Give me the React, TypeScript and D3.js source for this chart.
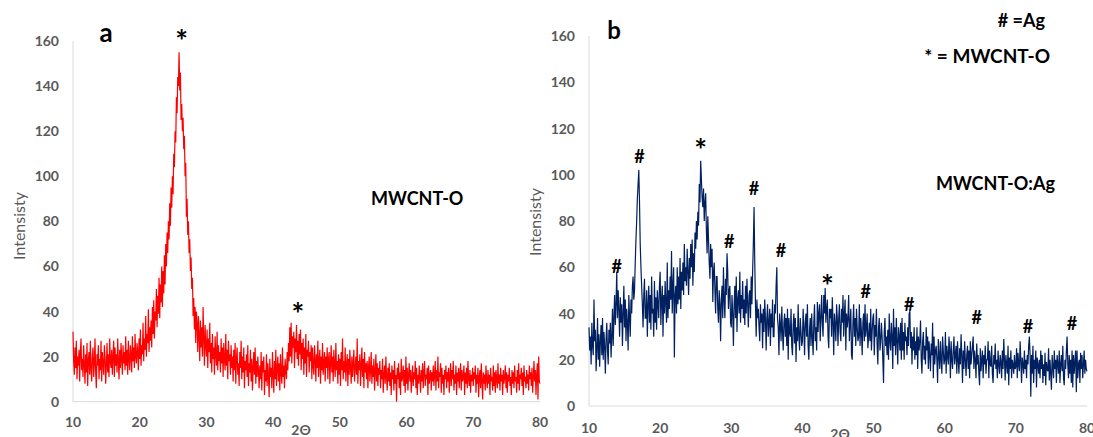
import React from "react";
import * as d3 from "d3";

// scan settings (degrees 2-theta)
const angleStart = 10;
const angleStep = 0.1;

const xTicks = [10, 20, 30, 40, 50, 60, 70, 80];
const yTicks = [0, 20, 40, 60, 80, 100, 120, 140, 160];

// MWCNT-O intensities, one row per 2 degrees
const intensityA = [
  31, 18, 12, 24, 15, 27, 10, 20, 16, 23, 9, 22, 28, 14, 19, 11, 25, 17, 8, 21,
  13, 26, 7, 18, 22, 12, 27, 15, 9, 20, 24, 11, 17, 28, 13, 6, 21, 16, 25, 10,
  19, 14, 27, 9, 22, 17, 12, 25, 20, 8, 16, 26, 13, 21, 11, 28, 18, 15, 23, 12,
  20, 27, 11, 24, 16, 21, 13, 28, 18, 10, 23, 15, 26, 19, 12, 25, 17, 22, 14, 29,
  16, 23, 12, 27, 19, 14, 25, 21, 13, 29, 18, 24, 15, 30, 20, 17, 26, 22, 14, 28,
  19, 32, 16, 25, 21, 35, 18, 28, 23, 38, 20, 30, 26, 41, 22, 33, 27, 36, 24, 42,
  30, 45, 28, 40, 36, 50, 33, 47, 39, 55, 37, 52, 44, 60, 42, 58, 48, 65, 52, 70,
  60, 75, 66, 80, 72, 88, 78, 95, 86, 100, 92, 110, 104, 120, 115, 135, 128, 144, 140, 155,
  138, 146, 125, 132, 120, 126, 112, 118, 100, 106, 82, 90, 74, 80, 66, 72, 58, 64, 50, 55,
  38, 46, 32, 42, 26, 40, 35, 22, 38, 30, 18, 36, 24, 33, 20, 42, 28, 16, 34, 25,
  20, 32, 15, 28, 22, 35, 17, 26, 13, 30, 19, 24, 12, 29, 21, 16, 31, 14, 25, 18,
  22, 13, 28, 17, 24, 11, 26, 19, 14, 30, 16, 23, 10, 27, 18, 21, 12, 25, 15, 20,
  9, 23, 14, 26, 8, 19, 24, 12, 17, 7, 22, 15, 27, 10, 20, 13, 24, 6, 18, 14,
  21, 11, 25, 7, 17, 13, 23, 9, 19, 5, 15, 22, 12, 24, 8, 18, 11, 20, 14, 6,
  16, 10, 22, 5, 18, 13, 20, 3, 14, 9, 21, 7, 17, 12, 2, 19, 11, 15, 6, 22,
  12, 4, 18, 10, 23, 7, 15, 20, 9, 17, 5, 21, 13, 8, 24, 11, 16, 6, 19, 14,
  10, 22, 14, 26, 18, 33, 20, 35, 17, 29, 24, 31, 15, 28, 22, 34, 19, 27, 16, 30,
  21, 32, 14, 26, 19, 28, 12, 24, 17, 30, 11, 23, 20, 27, 13, 22, 18, 25, 10, 24,
  16, 12, 25, 19, 9, 21, 15, 27, 11, 18, 23, 8, 20, 14, 26, 12, 17, 22, 9, 20,
  15, 24, 10, 19, 22, 8, 17, 25, 13, 20, 9, 23, 16, 11, 26, 14, 18, 8, 21, 12,
  19, 7, 22, 14, 28, 10, 18, 13, 24, 9, 16, 21, 7, 19, 12, 23, 15, 8, 20, 11,
  17, 23, 9, 15, 20, 12, 28, 8, 18, 14, 21, 7, 16, 24, 11, 19, 6, 22, 13, 17,
  10, 18, 6, 15, 20, 9, 14, 22, 8, 16, 11, 19, 5, 13, 21, 9, 17, 7, 15, 12,
  18, 6, 14, 10, 19, 4, 12, 16, 8, 20, 11, 5, 15, 9, 17, 7, 13, 3, 16, 10,
  14, 5, 18, 8, 12, 0, 15, 10, 17, 6, 13, 3, 19, 9, 11, 16, 7, 14, 4, 20,
  8, 15, 5, 12, 17, 9, 14, 4, 11, 16, 7, 13, 10, 18, 6, 15, 3, 12, 8, 16,
  11, 4, 14, 9, 17, 6, 13, 18, 7, 12, 10, 15, 3, 16, 8, 11, 14, 5, 13, 9,
  16, 7, 12, 18, 5, 14, 9, 20, 6, 13, 11, 17, 4, 15, 8, 12, 3, 14, 10, 16,
  6, 13, 9, 15, 4, 11, 17, 7, 14, 10, 18, 5, 12, 8, 16, 3, 13, 9, 15, 6,
  12, 17, 5, 14, 9, 11, 16, 3, 13, 8, 15, 6, 18, 10, 7, 14, 4, 12, 9, 15,
  7, 13, 10, 16, 4, 12, 8, 15, 2, 11, 14, 6, 17, 9, 1, 13, 8, 12, 5, 16,
  10, 6, 14, 8, 12, 3, 15, 9, 11, 5, 16, 7, 13, 4, 14, 10, 6, 17, 8, 12,
  5, 15, 9, 12, 3, 14, 8, 11, 16, 6, 13, 4, 12, 9, 15, 7, 11, 3, 14, 8,
  13, 6, 16, 9, 11, 4, 14, 8, 17, 5, 12, 10, 15, 7, 13, 3, 16, 9, 11, 6,
  14, 8, 12, 5, 16, 10, 13, 7, 15, 4, 11, 18, 9, 14, 3, 12, 17, 1, 20, 9,
  8,
];

// MWCNT-O:Ag intensities
const intensityB = [
  34, 24, 30, 18, 36, 26, 22, 46, 28, 33, 15, 25, 38, 20, 31, 17, 28, 35, 22, 38,
  20, 32, 26, 14, 29, 36, 24, 18, 33, 27, 36, 21, 30, 42, 26, 38, 48, 35, 44, 58,
  38, 50, 42, 30, 47, 36, 44, 26, 40, 52, 34, 46, 28, 42, 36, 24, 48, 38, 30, 46,
  40, 52, 56, 46, 50, 62, 72, 80, 90, 96, 102, 88, 70, 60, 52, 44, 34, 48, 55, 38,
  38, 50, 30, 44, 52, 36, 48, 33, 56, 40, 42, 30, 54, 36, 47, 33, 50, 44, 38, 52,
  58, 35, 46, 52, 30, 48, 40, 54, 44, 36, 62, 38, 50, 42, 56, 46, 67, 40, 52, 60,
  21, 48, 52, 40, 60, 44, 56, 46, 64, 42, 58, 50, 62, 48, 70, 54, 60, 52, 68, 58,
  48, 64, 55, 70, 60, 72, 52, 66, 58, 75, 68, 80, 72, 84, 78, 96, 88, 106, 98, 90,
  86, 94, 80, 88, 92, 76, 66, 82, 72, 62, 55, 70, 60, 68, 45, 58, 62, 50, 40, 56,
  56, 42, 36, 50, 44, 28, 46, 52, 38, 60, 46, 38, 55, 48, 66, 58, 42, 50, 52, 36,
  34, 48, 40, 26, 44, 52, 38, 56, 32, 46, 50, 40, 58, 36, 48, 42, 54, 38, 46, 35,
  52, 40, 55, 44, 34, 48, 50, 38, 56, 44, 58, 70, 86, 62, 44, 30, 46, 38, 42, 34,
  28, 44, 36, 40, 25, 42, 32, 46, 38, 24, 38, 44, 30, 36, 42, 26, 40, 34, 46, 30,
  30, 44, 40, 52, 60, 38, 34, 22, 40, 35, 28, 43, 32, 24, 36, 40, 30, 38, 26, 42,
  20, 38, 32, 30, 42, 26, 22, 35, 40, 27, 38, 19, 34, 28, 44, 30, 24, 38, 32, 26,
  28, 42, 34, 22, 36, 40, 30, 44, 26, 20, 33, 38, 26, 40, 30, 22, 36, 44, 28, 34,
  24, 45, 32, 40, 44, 28, 38, 48, 36, 30, 48, 40, 51, 36, 42, 46, 30, 25, 42, 38,
  42, 30, 47, 36, 22, 40, 35, 28, 44, 38, 26, 38, 44, 32, 28, 42, 36, 48, 30, 40,
  46, 24, 40, 34, 38, 48, 28, 36, 42, 22, 20, 36, 44, 30, 38, 26, 42, 34, 28, 30,
  44, 26, 38, 32, 22, 36, 40, 28, 44, 30, 34, 40, 25, 30, 36, 28, 42, 24, 32, 38,
  40, 22, 35, 30, 42, 26, 18, 34, 38, 24, 28, 36, 30, 20, 10, 32, 38, 26, 30, 22,
  33, 20, 40, 28, 24, 36, 30, 16, 42, 26, 34, 22, 38, 28, 18, 34, 30, 24, 36, 20,
  38, 24, 32, 20, 36, 28, 30, 22, 34, 26, 40, 41, 25, 32, 18, 30, 24, 34, 20, 28,
  22, 34, 16, 30, 24, 28, 37, 20, 14, 28, 32, 20, 26, 18, 34, 24, 30, 16, 28, 22,
  15, 27, 22, 36, 12, 30, 18, 24, 26, 20, 10, 29, 22, 16, 28, 20, 14, 30, 24, 18,
  20, 32, 14, 26, 22, 18, 30, 24, 12, 28, 20, 16, 24, 30, 18, 22, 26, 14, 28, 20,
  14, 25, 18, 31, 22, 10, 24, 16, 28, 20, 13, 22, 26, 16, 24, 12, 28, 18, 22, 26,
  30, 16, 24, 20, 12, 27, 18, 22, 14, 9, 25, 15, 20, 24, 12, 22, 18, 26, 14, 20,
  20, 28, 12, 24, 18, 17, 26, 14, 10, 22, 18, 27, 16, 20, 12, 24, 18, 14, 22, 19,
  12, 24, 16, 29, 20, 11, 22, 18, 14, 26, 9, 21, 16, 24, 12, 20, 18, 14, 22, 16,
  17, 25, 12, 23, 18, 15, 28, 20, 10, 21, 18, 14, 24, 16, 20, 12, 22, 18, 26, 30,
  22, 4, 22, 14, 26, 10, 20, 16, 24, 8, 21, 18, 14, 20, 12, 24, 16, 22, 10, 18,
  13, 23, 9, 19, 16, 15, 25, 11, 20, 14, 7, 22, 17, 12, 24, 16, 20, 10, 22, 18,
  14, 24, 10, 18, 22, 15, 26, 12, 9, 20, 16, 24, 30, 18, 12, 22, 14, 20, 10, 24,
  8, 22, 14, 19, 24, 6, 24, 12, 18, 20, 10, 23, 16, 22, 12, 18, 24, 14, 20, 16,
  15,
];

// peak labels: [symbol, angle, intensity at label baseline]
const markersA: [string, number, number][] = [
  ["*", 26.3, 159],
  ["*", 43.7, 38],
];
const markersB: [string, number, number][] = [
  ["#", 13.9, 57.5],
  ["#", 17.1, 105],
  ["*", 25.7, 110],
  ["#", 29.7, 68.3],
  ["#", 33.2, 91.2],
  ["#", 37.0, 64.4],
  ["*", 43.5, 51],
  ["#", 48.9, 46.7],
  ["#", 55.0, 41.1],
  ["#", 64.5, 35.5],
  ["#", 71.7, 31.6],
  ["#", 77.9, 32.9],
];

const font = "Lato, 'Open Sans', sans-serif";
const axisGrey = "#d9d9d9";
const labelGrey = "#595959";

type Box = { left: number; right: number; bottom: number; top: number };

const Panel = ({
  values,
  color,
  box,
  markers,
  xLabelY,
  yTitleX,
  yTitleY,
  thetaX,
  thetaY,
}: {
  values: number[];
  color: string;
  box: Box;
  markers: [string, number, number][];
  xLabelY: number;
  yTitleX: number;
  yTitleY: number;
  thetaX: number;
  thetaY: number;
}) => {
  const x = d3.scaleLinear().domain([10, 80]).range([box.left, box.right]);
  const y = d3.scaleLinear().domain([0, 160]).range([box.bottom, box.top]);
  const line = d3
    .line<number>()
    .x((_, i) => x(angleStart + i * angleStep))
    .y((d) => y(d));

  return (
    <g>
      <line x1={box.left} x2={box.left} y1={box.top} y2={box.bottom} stroke={axisGrey} />
      <line x1={box.left} x2={box.right} y1={box.bottom} y2={box.bottom} stroke={axisGrey} />
      {yTicks.map((t) => (
        <text
          key={"y" + t}
          x={box.left - 14}
          y={y(t)}
          dy="0.36em"
          textAnchor="end"
          fontSize={14}
          fontWeight="bold"
          fill={labelGrey}
        >
          {t}
        </text>
      ))}
      {xTicks.map((t) => (
        <text
          key={"x" + t}
          x={x(t)}
          y={xLabelY}
          textAnchor="middle"
          fontSize={14}
          fontWeight="bold"
          fill={labelGrey}
        >
          {t}
        </text>
      ))}
      <path d={line(values) || ""} fill="none" stroke={color} strokeWidth={1.2} />
      {markers.map(([s, a, v], i) => (
        <text
          key={"m" + i}
          x={x(a)}
          y={y(v) + (s === "*" ? 9 : 0)}
          textAnchor="middle"
          fontSize={s === "*" ? 30 : 18}
          fontWeight="bold"
          fill="#000"
        >
          {s}
        </text>
      ))}
      <text
        transform={`translate(${yTitleX},${yTitleY}) rotate(-90)`}
        textAnchor="middle"
        fontSize={16}
        fill={labelGrey}
      >
        Intensisty
      </text>
      <text x={thetaX} y={thetaY} textAnchor="middle" fontSize={14} fontWeight="bold" fill={labelGrey}>
        2Θ
      </text>
    </g>
  );
};

export default function App() {
  return (
    <div style={{ position: "absolute", left: 0, top: 0 }}>
      <svg width={1093} height={437} style={{ display: "block", background: "#fff", fontFamily: font }}>
        <Panel
          values={intensityA}
          color="#ff0000"
          box={{ left: 73, right: 540, bottom: 401.7, top: 41 }}
          markers={markersA}
          xLabelY={427}
          yTitleX={25}
          yTitleY={226}
          thetaX={301}
          thetaY={435}
        />
        <Panel
          values={intensityB}
          color="#002060"
          box={{ left: 589, right: 1087, bottom: 406, top: 36 }}
          markers={markersB}
          xLabelY={433}
          yTitleX={541}
          yTitleY={222}
          thetaX={840}
          thetaY={439}
        />
        <text x={106} y={42} textAnchor="middle" fontSize={26} fontWeight="bold">a</text>
        <text x={614} y={39} textAnchor="middle" fontSize={24} fontWeight="bold">b</text>
        <text x={371} y={205} fontSize={18} fontWeight="bold">MWCNT-O</text>
        <text x={1045} y={27} textAnchor="end" fontSize={18} fontWeight="bold"># =Ag</text>
        <text x={1050} y={63} textAnchor="end" fontSize={19} fontWeight="bold">* = MWCNT-O</text>
        <text x={1055} y={190} textAnchor="end" fontSize={18} fontWeight="bold">MWCNT-O:Ag</text>
      </svg>
    </div>
  );
}
